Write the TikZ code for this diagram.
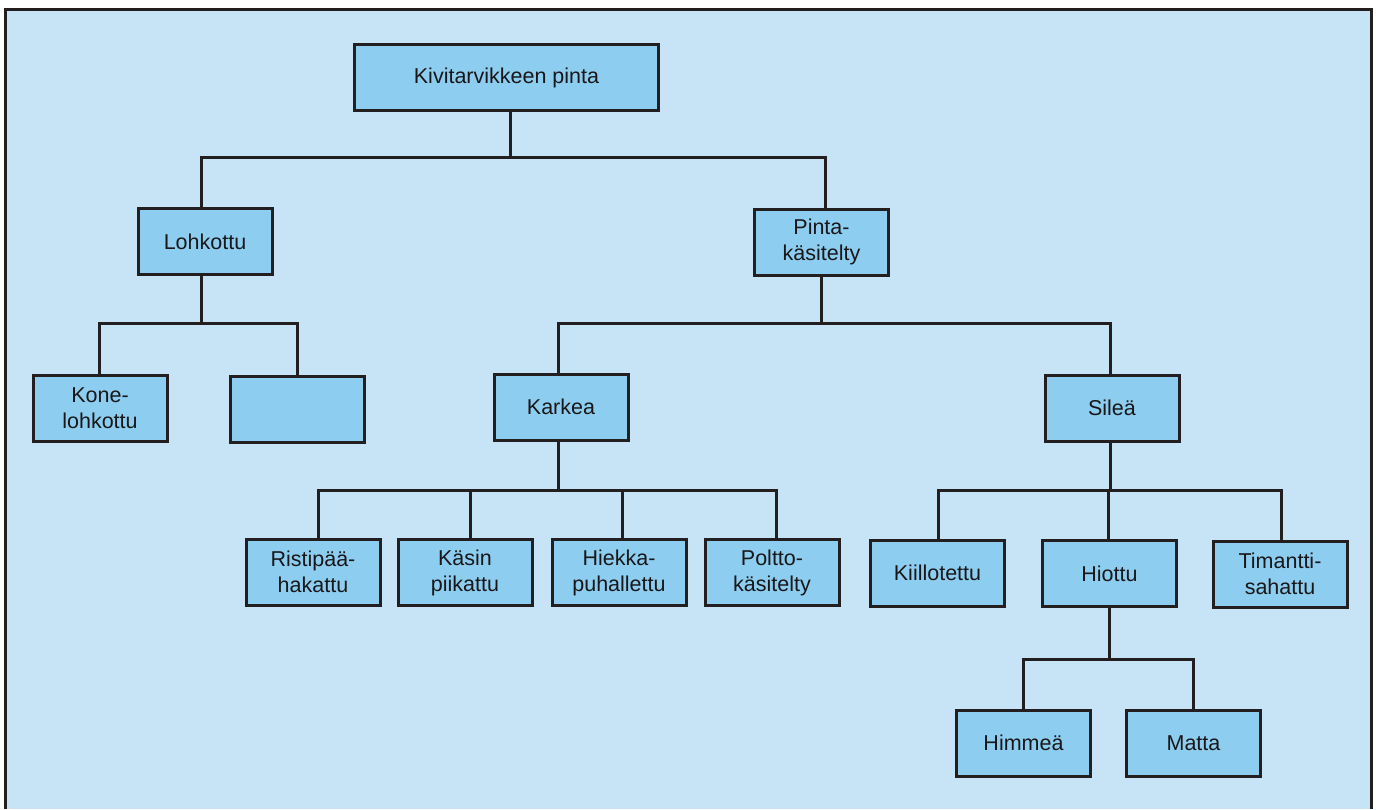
\documentclass[tikz,border=0pt]{standalone}
\usepackage{fontspec}
\setmainfont{Liberation Sans}
\definecolor{bgc}{RGB}{198,228,245}
\definecolor{boxc}{RGB}{141,206,240}
\definecolor{linec}{RGB}{35,31,32}
\definecolor{textc}{RGB}{25,23,25}
\begin{document}
\begin{tikzpicture}[x=1pt,y=-1pt,
  box/.style={draw=linec, line width=3pt, fill=boxc, minimum width=134pt,
    minimum height=66pt, inner sep=0pt, align=center, text=textc,
    font=\fontsize{21.5}{26}\selectfont},
  conn/.style={draw=linec, line width=3pt}]
\useasboundingbox (0,0) rectangle (1376,809);
\fill[bgc] (5,9) rectangle (1371,809);
\draw[linec, line width=3pt] (5,809) -- (5,9) -- (1371,9) -- (1371,809);

\node[box, minimum width=304pt] (root) at (506.5,77.5) {Kivitarvikkeen pinta};
\node[box] (loh) at (205,241.5) {Lohkottu};
\node[box] (pin) at (821.5,242) {Pinta-\\käsitelty};
\node[box] (kone) at (100,408) {Kone-\\lohkottu};
\node[box] (empty) at (297.5,409) {};
\node[box] (kar) at (561,407) {Karkea};
\node[box] (sil) at (1112,408) {Sileä};
\node[box] (ris) at (313,572) {Ristipää-\\hakattu};
\node[box] (kas) at (465,572.5) {Käsin\\piikattu};
\node[box] (hie) at (619,572.5) {Hiekka-\\puhallettu};
\node[box] (pol) at (772,572.5) {Poltto-\\käsitelty};
\node[box] (kii) at (937.5,573) {Kiillotettu};
\node[box] (hio) at (1109.5,573.5) {Hiottu};
\node[box] (tim) at (1280,574) {Timantti-\\sahattu};
\node[box] (him) at (1023.5,743) {Himmeä};
\node[box] (mat) at (1193.5,743) {Matta};

\foreach \c/\d in {loh/-4,pin/3.5}{\draw[conn] ([xshift=3.5pt]root.south) -- ++(0,45) -| ([xshift=\d pt]\c.north);}
\foreach \c/\d in {kone/-1,empty/0}{\draw[conn] ([xshift=-4pt]loh.south) -- ++(0,47) -| ([xshift=\d pt]\c.north);}
\foreach \c/\d in {kar/-3,sil/-2}{\draw[conn] (pin.south) -- ++(0,47) -| ([xshift=\d pt]\c.north);}
\foreach \c/\d in {ris/5,kas/5,hie/3,pol/4}{\draw[conn] ([xshift=-3pt]kar.south) -- ++(0,49) -| ([xshift=\d pt]\c.north);}
\foreach \c/\d in {kii/0.5,hio/-1.5,tim/1}{\draw[conn] ([xshift=-2pt]sil.south) -- ++(0,48) -| ([xshift=\d pt]\c.north);}
\foreach \c in {him,mat}{\draw[conn] (hio.south) -- ++(0,51) -| (\c.north);}
\end{tikzpicture}
\end{document}
